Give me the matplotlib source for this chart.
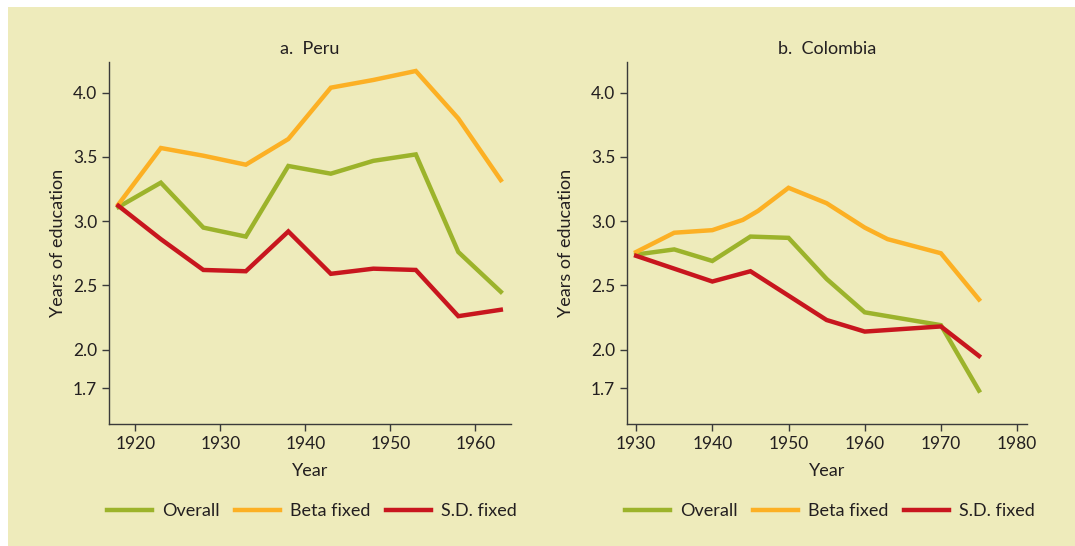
import matplotlib
matplotlib.use("Agg")
import matplotlib.pyplot as plt
from matplotlib.patches import Rectangle
from matplotlib.lines import Line2D

plt.rcParams['font.family'] = ['Lato', 'DejaVu Sans']

# Peru data
peru_years = [1918, 1923, 1928, 1933, 1938, 1943, 1948, 1953, 1958, 1963]
peru_overall = [3.11, 3.30, 2.95, 2.88, 3.43, 3.37, 3.47, 3.52, 2.76, 2.45]
peru_beta = [3.13, 3.57, 3.51, 3.44, 3.64, 4.04, 4.10, 4.17, 3.80, 3.32]
peru_sd = [3.12, 2.86, 2.62, 2.61, 2.92, 2.59, 2.63, 2.62, 2.26, 2.31]

# Colombia data
col_overall_years = [1930, 1935, 1940, 1945, 1950, 1955, 1960, 1970, 1975]
col_overall = [2.74, 2.78, 2.69, 2.88, 2.87, 2.55, 2.29, 2.19, 1.68]
col_beta_years = [1930, 1935, 1940, 1944, 1946, 1950, 1955, 1960, 1963, 1970, 1975]
col_beta = [2.76, 2.91, 2.93, 3.01, 3.08, 3.26, 3.14, 2.95, 2.86, 2.75, 2.39]
col_sd_years = [1930, 1935, 1940, 1945, 1950, 1955, 1960, 1970, 1975]
col_sd = [2.73, 2.63, 2.53, 2.61, 2.42, 2.23, 2.14, 2.18, 1.95]

yticks = [1.7, 2.0, 2.5, 3.0, 3.5, 4.0]
peru_xticks = [1920, 1930, 1940, 1950, 1960]
col_xticks = [1930, 1940, 1950, 1960, 1970, 1980]
series_labels = ["Overall", "Beta fixed", "S.D. fixed"]

GREEN = "#9cb32b"
ORANGE = "#fcb024"
RED = "#c8161e"
BG = "#eeebbb"
TXT = "#231f20"

fig = plt.figure(figsize=(10.75, 5.46), dpi=100)
fig.patch.set_facecolor("white")
fig.patches.append(Rectangle((8/1075, 0), 1 - 8/1075, 1 - 7/546, transform=fig.transFigure,
                             facecolor=BG, edgecolor="none", zorder=-10))

def style(ax, title, xticks, xlim, ylabelpad):
    ax.set_facecolor("none")
    for s in ["top", "right"]:
        ax.spines[s].set_visible(False)
    for s in ["left", "bottom"]:
        ax.spines[s].set_color("#3a3a3a")
        ax.spines[s].set_linewidth(1.0)
    ax.set_ylim(1.42, 4.24)
    ax.set_xlim(*xlim)
    ax.set_yticks(yticks)
    ax.set_yticklabels([f"{v:.1f}" for v in yticks])
    ax.set_xticks(xticks)
    ax.tick_params(axis="both", direction="out", length=5, width=1.0, colors="#3a3a3a",
                   labelcolor=TXT, labelsize=12.5)
    ax.set_title(title, fontsize=13, color=TXT, pad=6)
    ax.set_xlabel("Year", fontsize=13, color=TXT, labelpad=8)
    ax.set_ylabel("Years of education", fontsize=13, color=TXT, labelpad=ylabelpad)

ax1 = fig.add_axes([109/1075, (546-424)/546, 402/1075, 362/546])
ax1.plot(peru_years, peru_overall, color=GREEN, lw=3.2, solid_joinstyle="miter")
ax1.plot(peru_years, peru_beta, color=ORANGE, lw=3.2, solid_joinstyle="miter")
ax1.plot(peru_years, peru_sd, color=RED, lw=3.2, solid_joinstyle="miter")
style(ax1, "a.  Peru", peru_xticks, (1916.9, 1964.2), 5)

ax2 = fig.add_axes([627/1075, (546-424)/546, 400/1075, 362/546])
ax2.plot(col_overall_years, col_overall, color=GREEN, lw=3.2, solid_joinstyle="miter")
ax2.plot(col_beta_years, col_beta, color=ORANGE, lw=3.2, solid_joinstyle="miter")
ax2.plot(col_sd_years, col_sd, color=RED, lw=3.2, solid_joinstyle="miter")
style(ax2, "b.  Colombia", col_xticks, (1928.8, 1981.3), 12)

handles = [Line2D([], [], color=c, lw=3.2) for c in (GREEN, ORANGE, RED)]
for cx in (312/1075, 830/1075):
    leg = fig.legend(handles, series_labels, loc="center", bbox_to_anchor=(cx, 1 - 511/546),
                     ncol=3, frameon=False, fontsize=13, handlelength=2.5,
                     columnspacing=0.85, handletextpad=0.55, labelcolor=TXT)

fig.savefig("out.png", dpi=100)
